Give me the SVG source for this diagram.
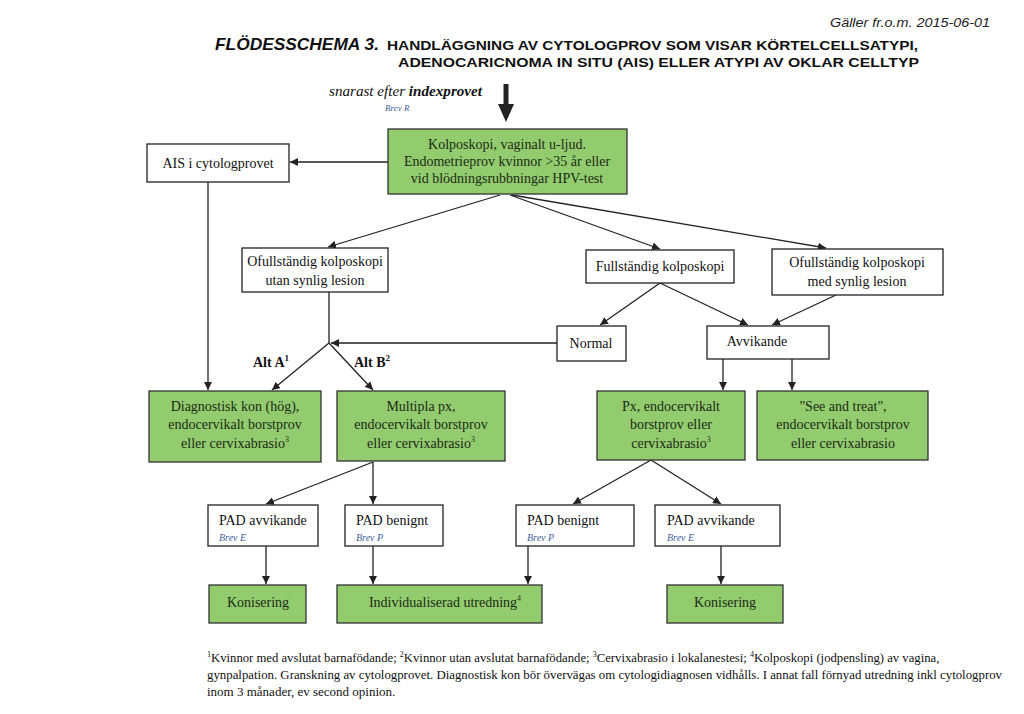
<svg xmlns="http://www.w3.org/2000/svg" width="1024" height="714" viewBox="0 0 1024 714">
<defs>
<marker id="ah" viewBox="0 0 10 10" refX="10" refY="5" markerWidth="8" markerHeight="8" markerUnits="userSpaceOnUse" orient="auto">
<path d="M0,0 L10,5 L0,10 z" fill="#222"/>
</marker>
<style>
.box{fill:#fff;stroke:#222;stroke-width:1.3}
.g{fill:#92cc6e;stroke:#333;stroke-width:1.3}
.t{font-family:"Liberation Serif","Times New Roman",serif;font-size:14px;fill:#111}
.c{text-anchor:middle}
.gt{fill:#1d2a17}
.brev{font-family:"Liberation Serif",serif;font-size:10px;font-style:italic;fill:#3d5f9a}
.ln{stroke:#222;stroke-width:1.3;fill:none}
.ar{stroke:#222;stroke-width:1.3;fill:none;marker-end:url(#ah)}
.hd{font-family:"Liberation Sans",Arial,sans-serif;font-weight:bold;fill:#111}
.fn{font-family:"Liberation Serif",serif;font-size:13px;fill:#111}
</style>
</defs>
<rect width="1024" height="714" fill="#fff"/>

<g id="header">
<text x="990" y="27" text-anchor="end" font-family="Liberation Sans, Arial, sans-serif" font-size="12" font-style="italic" fill="#222" textLength="160" lengthAdjust="spacingAndGlyphs">Gäller fr.o.m. 2015-06-01</text>
<text class="hd" x="215" y="50" font-size="17" font-style="italic" textLength="164" lengthAdjust="spacingAndGlyphs">FLÖDESSCHEMA 3.</text>
<text class="hd" x="387" y="50" font-size="13.5" textLength="531" lengthAdjust="spacingAndGlyphs">HANDLÄGGNING AV CYTOLOGPROV SOM VISAR KÖRTELCELLSATYPI,</text>
<text class="hd" x="398" y="67" font-size="13.5" textLength="521" lengthAdjust="spacingAndGlyphs">ADENOCARICNOMA IN SITU (AIS) ELLER ATYPI  AV OKLAR CELLTYP</text>
</g>

<g id="start">
<text x="329" y="96" font-family="Liberation Serif, serif" font-size="15" font-style="italic" fill="#111" textLength="153" lengthAdjust="spacingAndGlyphs">snarast efter <tspan font-weight="bold">indexprovet</tspan></text>
<text class="brev" x="385" y="111" style="font-size:9px">Brev R</text>
<line x1="506" y1="84" x2="506" y2="106" stroke="#222" stroke-width="5"/>
<path d="M498,104 L514,104 L506,122 z" fill="#222"/>
</g>

<g id="connectors">
<line class="ar" x1="388" y1="162" x2="290" y2="162"/>
<line class="ar" x1="208" y1="182" x2="208" y2="390"/>
<line class="ar" x1="500" y1="195" x2="328" y2="247"/>
<line class="ar" x1="510" y1="195" x2="660" y2="249"/>
<line class="ar" x1="512" y1="195" x2="826" y2="248"/>
<line class="ar" x1="660" y1="283" x2="600" y2="325"/>
<line class="ar" x1="660" y1="283" x2="748" y2="325"/>
<line class="ar" x1="836" y1="295" x2="772" y2="325"/>
<line class="ln" x1="329" y1="292" x2="329" y2="343"/>
<line class="ar" x1="557" y1="343" x2="331" y2="343"/>
<line class="ar" x1="329" y1="343" x2="272" y2="390"/>
<line class="ar" x1="329" y1="343" x2="373" y2="390"/>
<line class="ar" x1="723" y1="359" x2="723" y2="390"/>
<line class="ar" x1="792" y1="359" x2="792" y2="390"/>
<line class="ar" x1="373" y1="462" x2="266" y2="504"/>
<line class="ar" x1="373" y1="462" x2="373" y2="504"/>
<line class="ar" x1="651" y1="460" x2="573" y2="504"/>
<line class="ar" x1="651" y1="460" x2="721" y2="504"/>
<line class="ar" x1="266" y1="546" x2="266" y2="584"/>
<line class="ar" x1="373" y1="546" x2="373" y2="584"/>
<line class="ar" x1="528" y1="546" x2="528" y2="584"/>
<line class="ar" x1="721" y1="546" x2="721" y2="584"/>
</g>

<g id="n_kolposkopi">
<rect class="g" x="388" y="129" width="239" height="65"/>
<text class="t c gt" x="507" y="149">Kolposkopi, vaginalt u-ljud.</text>
<text class="t c gt" x="507" y="166">Endometrieprov kvinnor &gt;35 år eller</text>
<text class="t c gt" x="507" y="183">vid blödningsrubbningar HPV-test</text>
</g>

<g id="n_ais">
<rect class="box" x="147" y="144" width="142" height="38"/>
<text class="t c" x="218" y="168">AIS i cytologprovet</text>
</g>

<g id="n_ofull_utan">
<rect class="box" x="242" y="248" width="146" height="44"/>
<text class="t c" x="315" y="266">Ofullständig kolposkopi</text>
<text class="t c" x="315" y="285">utan synlig lesion</text>
</g>

<g id="n_full">
<rect class="box" x="586" y="250" width="148" height="33"/>
<text class="t c" x="660" y="271">Fullständig kolposkopi</text>
</g>

<g id="n_ofull_med">
<rect class="box" x="772" y="249" width="171" height="46"/>
<text class="t c" x="857" y="267">Ofullständig kolposkopi</text>
<text class="t c" x="857" y="286">med synlig lesion</text>
</g>

<g id="n_normal">
<rect class="box" x="557" y="326" width="69" height="35"/>
<text class="t c" x="591" y="348">Normal</text>
</g>

<g id="n_avvikande">
<rect class="box" x="707" y="326" width="122" height="33"/>
<text class="t c" x="757" y="346">Avvikande</text>
</g>

<g id="labels">
<text class="t" x="253" y="367" font-weight="bold">Alt A<tspan font-size="9" dy="-6">1</tspan></text>
<text class="t" x="354" y="367" font-weight="bold">Alt B<tspan font-size="9" dy="-6">2</tspan></text>
</g>

<g id="n_diag">
<rect class="g" x="149" y="391" width="172" height="71"/>
<text class="t c gt" x="235" y="411">Diagnostisk kon (hög),</text>
<text class="t c gt" x="235" y="429">endocervikalt borstprov</text>
<text class="t c gt" x="235" y="448">eller cervixabrasio<tspan font-size="8" dy="-6">3</tspan></text>
</g>

<g id="n_multipla">
<rect class="g" x="337" y="391" width="168" height="70"/>
<text class="t c gt" x="421" y="411">Multipla px,</text>
<text class="t c gt" x="421" y="429">endocervikalt borstprov</text>
<text class="t c gt" x="421" y="448">eller cervixabrasio<tspan font-size="8" dy="-6">3</tspan></text>
</g>

<g id="n_px">
<rect class="g" x="597" y="391" width="148" height="69"/>
<text class="t c gt" x="671" y="411">Px, endocervikalt</text>
<text class="t c gt" x="671" y="429">borstprov eller</text>
<text class="t c gt" x="671" y="448">cervixabrasio<tspan font-size="8" dy="-6">3</tspan></text>
</g>

<g id="n_see">
<rect class="g" x="757" y="391" width="171" height="69"/>
<text class="t c gt" x="843" y="411">"See and treat",</text>
<text class="t c gt" x="843" y="429">endocervikalt borstprov</text>
<text class="t c gt" x="843" y="448">eller cervixabrasio</text>
</g>

<g id="n_pad_avv_l">
<rect class="box" x="208" y="505" width="110" height="41"/>
<text class="t" x="219" y="525">PAD avvikande</text>
<text class="brev" x="219" y="541">Brev E</text>
</g>

<g id="n_pad_ben_l">
<rect class="box" x="345" y="505" width="98" height="41"/>
<text class="t" x="356" y="525">PAD benignt</text>
<text class="brev" x="356" y="541">Brev P</text>
</g>

<g id="n_pad_ben_r">
<rect class="box" x="516" y="505" width="118" height="41"/>
<text class="t" x="527" y="525">PAD benignt</text>
<text class="brev" x="527" y="541">Brev P</text>
</g>

<g id="n_pad_avv_r">
<rect class="box" x="655" y="505" width="125" height="41"/>
<text class="t" x="667" y="525">PAD avvikande</text>
<text class="brev" x="667" y="541">Brev E</text>
</g>

<g id="n_kon_l">
<rect class="g" x="209" y="585" width="97" height="38"/>
<text class="t c gt" x="258" y="607">Konisering</text>
</g>

<g id="n_indiv">
<rect class="g" x="337" y="585" width="205" height="38"/>
<text class="t c gt" x="445" y="607">Individualiserad utredning<tspan font-size="8" dy="-6">4</tspan></text>
</g>

<g id="n_kon_r">
<rect class="g" x="667" y="585" width="116" height="38"/>
<text class="t c gt" x="725" y="607">Konisering</text>
</g>

<g id="footnote">
<text class="fn" x="207" y="662" style="font-size:12.7px"><tspan font-size="8" dy="-5">1</tspan><tspan dy="5">Kvinnor med avslutat barnafödande; </tspan><tspan font-size="8" dy="-5">2</tspan><tspan dy="5">Kvinnor utan avslutat barnafödande; </tspan><tspan font-size="8" dy="-5">3</tspan><tspan dy="5">Cervixabrasio i lokalanestesi; </tspan><tspan font-size="8" dy="-5">4</tspan><tspan dy="5">Kolposkopi (jodpensling) av vagina,</tspan></text>
<text class="fn" x="207" y="679" textLength="795" lengthAdjust="spacingAndGlyphs">gynpalpation. Granskning av cytologprovet. Diagnostisk kon bör övervägas om cytologidiagnosen vidhålls. I annat fall förnyad utredning inkl cytologprov</text>
<text class="fn" x="207" y="696">inom 3 månader, ev second opinion.</text>
</g>
</svg>
